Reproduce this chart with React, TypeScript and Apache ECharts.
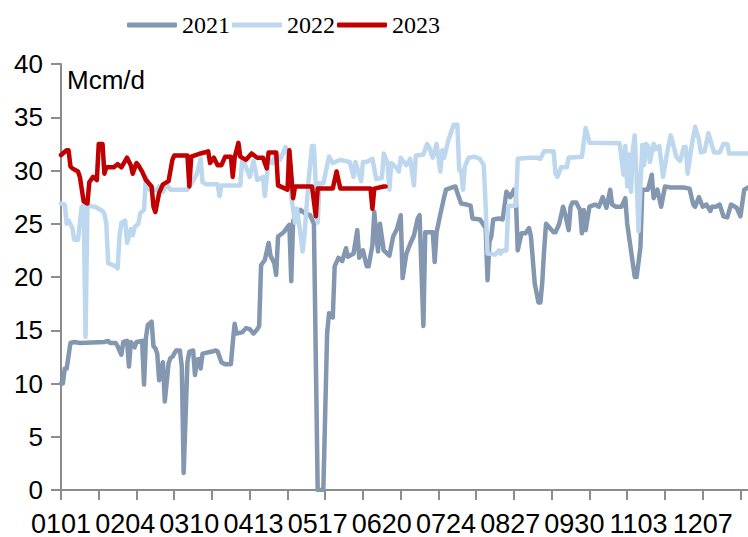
import React, { useEffect, useRef } from "react";
import * as echarts from "echarts";

// Daily categories of a non-leap year, labelled MMDD
const monthLengths = [31, 28, 31, 30, 31, 30, 31, 31, 30, 31, 30, 31];
const categories: string[] = [];
monthLengths.forEach((len, m) => {
  for (let d = 1; d <= len; d++) {
    categories.push(String(m + 1).padStart(2, "0") + String(d).padStart(2, "0"));
  }
});

const yTicks = [0, 5, 10, 15, 20, 25, 30, 35, 40];
const seriesNames = ["2021", "2022", "2023"];
const unitLabel = "Mcm/d";

// [day index, Mcm/d]
const data2021: [number, number][] = [
  [0, 10.0], [1, 10.0], [2, 11.4], [3, 11.4], [5, 13.8], [7, 13.9], [10, 13.8], [23, 13.9], [25, 14.0], [26, 13.8],
  [29, 13.8], [30, 13.5], [32, 12.7], [33, 13.9], [35, 14.0], [36, 11.6], [37, 13.9], [39, 13.4], [40, 13.9], [43, 14.0],
  [44, 9.9], [45, 14.3], [46, 15.5], [48, 15.8], [49, 13.5], [50, 13.3], [51, 12.8], [52, 10.3], [54, 12.0], [55, 8.3],
  [57, 11.9], [58, 12.4], [59, 12.5], [61, 13.1], [63, 13.1], [64, 11.6], [65, 1.6], [67, 12.0], [68, 13.0], [70, 13.1],
  [71, 10.8], [72, 12.2], [73, 12.3], [74, 11.4], [75, 12.8], [80, 13.0], [82, 13.1], [83, 13.0], [85, 12.0], [87, 11.8],
  [90, 11.8], [91, 13.8], [92, 15.6], [93, 14.7], [96, 14.8], [98, 15.2], [100, 15.1], [102, 14.7], [104, 15.1], [105, 15.4],
  [106, 21.1], [108, 21.6], [110, 23.2], [111, 22.0], [113, 21.3], [114, 20.2], [115, 23.8], [118, 24.2], [120, 24.7], [121, 24.9],
  [122, 19.6], [123, 25.3], [125, 25.9], [127, 26.3], [129, 26.0], [132, 25.8], [134, 25.0], [136, 0], [139, 0], [141, 14.7],
  [142, 16.6], [144, 16.2], [145, 21.0], [147, 21.8], [149, 21.5], [151, 22.7], [152, 21.9], [155, 22.2], [157, 24.4], [158, 21.8],
  [160, 22.5], [162, 21.0], [163, 21.0], [165, 23.0], [166, 26.1], [167, 24.0], [168, 22.4], [169, 25.0], [171, 22.5], [174, 22.0],
  [176, 23.8], [178, 24.5], [180, 25.8], [181, 19.9], [183, 22.2], [185, 23.1], [187, 23.9], [189, 25.5], [190, 25.8], [192, 15.4],
  [193, 24.2], [197, 24.2], [198, 21.4], [199, 24.2], [201, 25.9], [203, 27.5], [204, 28.2], [207, 28.4], [209, 28.5], [210, 27.9],
  [212, 26.9], [215, 26.8], [217, 26.7], [218, 25.5], [222, 25.4], [225, 24.6], [226, 19.7], [227, 23.3], [228, 23.8], [229, 25.4],
  [232, 25.5], [234, 25.4], [236, 28.0], [238, 27.5], [240, 28.2], [241, 27.5], [242, 22.5], [244, 24.1], [246, 24.1], [248, 24.6],
  [249, 23.8], [251, 19.4], [253, 17.6], [254, 17.6], [255, 19.5], [256, 22.6], [257, 25.0], [259, 24.6], [261, 24.2], [262, 24.2],
  [264, 25.0], [266, 26.6], [267, 26.0], [269, 24.4], [270, 26.6], [271, 27.0], [273, 27.0], [275, 26.3], [276, 24.1], [277, 26.3],
  [278, 24.4], [280, 26.6], [283, 26.8], [285, 26.6], [287, 27.5], [289, 26.5], [291, 28.2], [292, 26.8], [294, 26.6], [297, 26.6],
  [299, 27.4], [300, 25.0], [302, 22.5], [304, 20.0], [305, 20.0], [307, 22.8], [308, 28.2], [311, 28.2], [313, 29.6], [314, 27.4],
  [316, 28.2], [318, 26.6], [320, 28.5], [323, 28.4], [330, 28.4], [333, 28.3], [335, 26.8], [336, 26.6], [338, 27.5], [340, 26.6],
  [342, 26.8], [344, 26.2], [345, 26.6], [347, 26.6], [349, 26.8], [351, 25.7], [353, 25.6], [355, 26.8], [358, 26.5], [360, 25.7],
  [362, 28.2], [364, 28.4],
];

const data2022: [number, number][] = [
  [0, 26.9], [2, 26.8], [3, 25.0], [4, 25.3], [6, 24.6], [7, 23.5], [9, 23.5], [11, 26.6], [12, 26.7], [13, 14.4],
  [14, 26.7], [18, 26.6], [22, 26.2], [23, 25.9], [24, 25.0], [25, 21.3], [29, 21.0], [30, 20.8], [31, 23.8], [32, 25.1],
  [34, 25.3], [35, 23.2], [37, 24.5], [38, 23.9], [39, 24.7], [41, 25.0], [42, 26.0], [44, 26.3], [45, 29.4], [46, 29.0],
  [47, 28.2], [51, 28.2], [52, 28.5], [54, 28.0], [56, 28.7], [58, 28.2], [67, 28.2], [68, 28.5], [70, 29.0], [72, 29.7],
  [74, 31.1], [75, 28.9], [77, 28.7], [83, 28.7], [84, 27.6], [85, 28.6], [95, 28.6], [96, 31.0], [97, 30.8], [100, 29.4],
  [102, 30.9], [104, 29.1], [107, 29.4], [108, 27.6], [110, 31.0], [112, 30.7], [114, 31.6], [116, 31.0], [119, 32.2], [120, 31.9],
  [121, 29.4], [122, 27.6], [124, 25.1], [125, 26.4], [127, 23.9], [128, 22.4], [129, 23.9], [131, 28.7], [133, 32.3], [134, 32.3],
  [135, 28.7], [136, 25.1], [137, 28.8], [139, 28.8], [142, 31.3], [144, 30.7], [148, 31.0], [153, 30.8], [155, 29.4], [156, 30.8],
  [159, 29.0], [160, 30.8], [162, 30.8], [165, 31.1], [167, 29.2], [170, 29.3], [171, 31.6], [173, 30.7], [174, 28.2], [175, 30.7],
  [178, 30.2], [179, 29.9], [180, 31.2], [182, 30.7], [183, 30.5], [185, 31.1], [187, 28.6], [188, 31.4], [192, 31.5], [194, 32.5],
  [195, 32.2], [197, 31.2], [199, 32.5], [201, 29.9], [202, 31.9], [203, 31.2], [205, 32.7], [208, 34.3], [210, 34.3], [211, 30.0],
  [212, 30.0], [213, 28.2], [214, 30.4], [216, 31.2], [219, 31.3], [222, 31.1], [224, 30.5], [225, 26.6], [226, 22.2], [230, 22.1],
  [232, 22.5], [233, 22.2], [234, 22.5], [236, 22.5], [237, 26.7], [241, 26.7], [242, 31.1], [248, 31.2], [252, 31.2], [254, 31.1],
  [256, 31.8], [261, 31.8], [262, 29.7], [263, 29.4], [265, 30.3], [268, 30.3], [269, 31.2], [276, 31.3], [278, 34.0], [280, 32.6],
  [296, 32.55], [298, 29.6], [299, 32.3], [300, 28.5], [301, 31.5], [302, 28.0], [303, 32.0], [304, 33.3], [305, 29.3], [306, 24.3],
  [307, 28.5], [308, 32.4], [309, 30.5], [310, 32.5], [311, 32.3], [312, 30.8], [314, 32.5], [315, 32.0], [317, 32.3], [319, 29.4],
  [321, 31.5], [323, 33.3], [324, 32.7], [326, 31.3], [328, 30.9], [330, 32.2], [331, 32.2], [332, 29.7], [334, 32.2], [336, 34.1],
  [338, 32.9], [339, 31.7], [341, 31.8], [343, 33.5], [344, 32.9], [346, 31.7], [349, 31.7], [351, 32.5], [353, 32.5], [354, 31.6],
  [364, 31.6],
];

const data2023: [number, number][] = [
  [0, 31.45], [3, 31.9], [4, 31.9], [5, 30.4], [6, 30.2], [9, 29.9], [10, 29.4], [12, 27.1], [14, 26.9], [15, 28.9],
  [17, 29.4], [19, 29.1], [20, 32.5], [22, 32.5], [23, 29.7], [24, 30.3], [28, 30.3], [30, 30.6], [32, 30.3], [35, 31.2],
  [37, 30.5], [38, 29.7], [40, 30.7], [41, 30.5], [43, 29.9], [45, 29.1], [48, 28.5], [49, 26.6], [50, 26.1], [52, 27.9],
  [54, 28.7], [57, 29.0], [59, 31.0], [60, 31.4], [67, 31.4], [68, 28.5], [69, 31.3], [74, 31.6], [78, 31.8], [79, 30.7],
  [81, 31.2], [83, 30.5], [85, 30.5], [87, 31.3], [90, 31.3], [91, 29.4], [92, 31.2], [94, 32.6], [95, 31.3], [98, 31.0],
  [101, 31.6], [104, 31.2], [107, 31.2], [109, 30.2], [110, 31.7], [114, 31.7], [115, 28.6], [120, 28.2], [121, 31.9], [123, 27.4],
  [124, 28.5], [133, 28.5], [135, 25.7], [136, 28.3], [144, 28.3], [146, 29.9], [148, 28.3], [164, 28.3], [165, 26.4], [166, 28.3],
  [171, 28.5], [172, 28.5],
];

const colors = ["#8497B0", "#BDD7EE", "#C00000"];

export default function App() {
  const ref = useRef<HTMLDivElement>(null);
  useEffect(() => {
    if (!ref.current) return;
    const chart = echarts.init(ref.current, null, { renderer: "svg" });
    const axisGray = "#8C8C8C";
    const sansFont = "'Liberation Sans', Arial, sans-serif";
    chart.setOption({
      animation: false,
      backgroundColor: "#ffffff",
      color: colors,
      legend: {
        left: 122,
        top: 8,
        icon: "roundRect",
        itemWidth: 50,
        itemHeight: 5,
        itemGap: 2,
        data: seriesNames,
        textStyle: {
          fontFamily: "'Liberation Serif', 'Times New Roman', serif",
          fontSize: 24,
          color: "#000",
        },
      },
      grid: { left: 61, right: 0, top: 64, bottom: 47 },
      graphic: [
        {
          type: "text",
          left: 67,
          top: 67,
          style: { text: unitLabel, font: `26px ${sansFont}`, fill: "#000" },
        },
      ],
      xAxis: {
        type: "category",
        data: categories,
        boundaryGap: false,
        axisLine: { lineStyle: { color: axisGray, width: 2 } },
        axisTick: { interval: 19, length: 10, lineStyle: { color: axisGray, width: 2 } },
        axisLabel: { interval: 33, margin: 20, fontSize: 27, fontFamily: sansFont, color: "#000" },
        splitLine: { show: false },
      },
      yAxis: {
        type: "value",
        min: yTicks[0],
        max: yTicks[yTicks.length - 1],
        interval: 5,
        axisLine: { show: true, lineStyle: { color: axisGray, width: 2 } },
        axisTick: { show: true, length: 10, lineStyle: { color: axisGray, width: 2 } },
        axisLabel: { margin: 18, fontSize: 26, fontFamily: sansFont, color: "#000" },
        splitLine: { show: false },
      },
      series: [data2021, data2022, data2023].map((d, k) => ({
        name: seriesNames[k],
        type: "line",
        data: d,
        symbol: "none",
        lineStyle: { width: 4.5, color: colors[k], cap: "round", join: "round" },
        itemStyle: { color: colors[k] },
      })),
    });
    return () => chart.dispose();
  }, []);
  return (
    <div
      ref={ref}
      style={{ position: "absolute", left: 0, top: 0, width: 748, height: 537 }}
    />
  );
}
